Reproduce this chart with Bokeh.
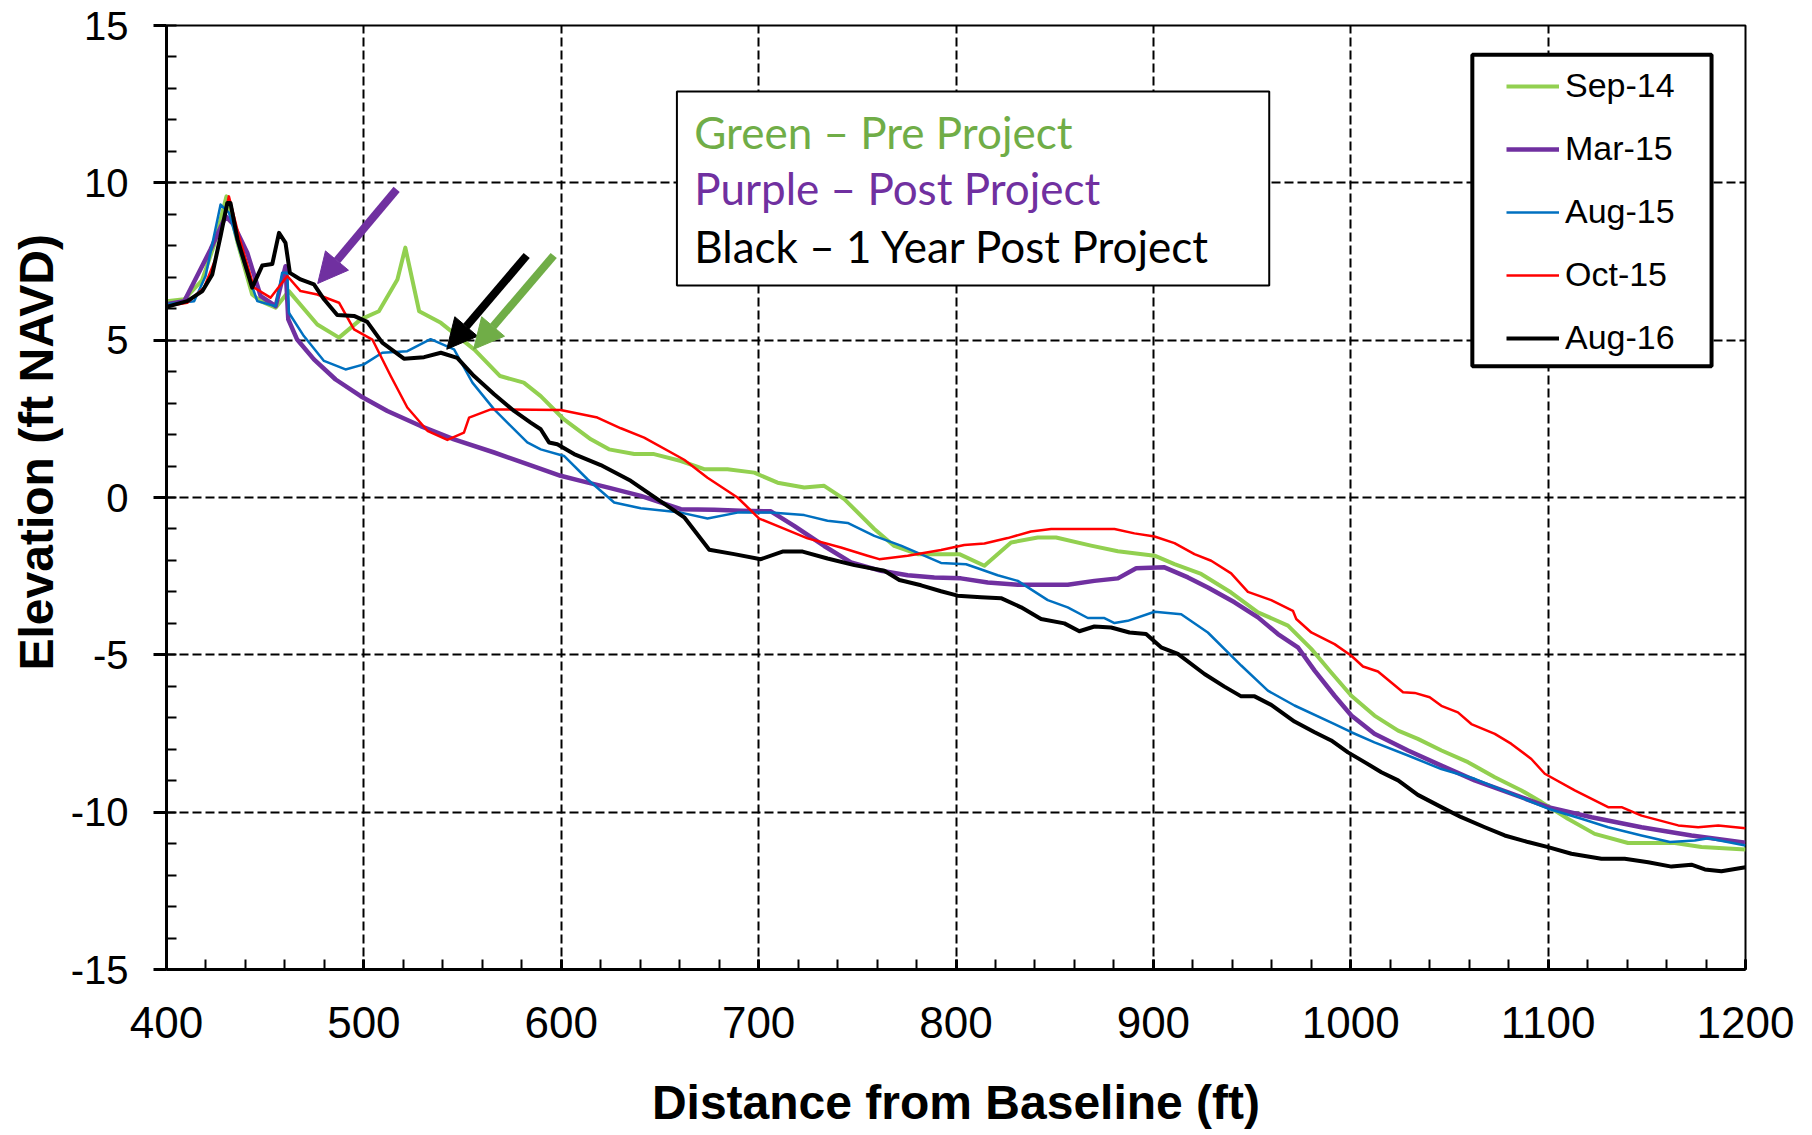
import math
from bokeh.plotting import figure
from bokeh.models import (Range1d, FixedTicker, Legend, LegendItem, BoxAnnotation,
                          Label, Arrow, NormalHead, Title, PrintfTickFormatter)
from bokeh.embed import file_html
from bokeh.resources import INLINE

# ---------------- data ----------------
x_sep14 = [400, 409, 418, 424, 430.4, 436, 443.4, 447.7, 455.3, 462, 476.4, 487.4, 498.4, 507.6, 517, 521, 528, 539, 556, 569,
           581, 589.6, 601.4, 615, 624.2, 637, 647, 660.6, 672.4, 684.2, 697.8, 709.6, 723.1, 733.2, 743.4, 758.6, 768.7, 780.6, 801.7, 814.4,
           827.9, 841.4, 850.7, 868.4, 882, 900.6, 910.7, 924.2, 939.4, 953, 968.2, 980, 990.1, 1000.3, 1012, 1024, 1034, 1046, 1059.4, 1073,
           1086.5, 1096.6, 1110, 1123.6, 1140.5, 1164.2, 1177.7, 1200]
y_sep14 = [6.24, 6.3, 6.9, 8.0, 9.57, 8.1, 6.45, 6.24, 6.03, 6.56, 5.5, 5.08, 5.66, 5.92, 6.93, 7.94, 5.92, 5.55, 4.7, 3.86,
           3.65, 3.22, 2.48, 1.85, 1.53, 1.38, 1.38, 1.16, 0.9, 0.9, 0.79, 0.47, 0.32, 0.37, -0.05, -1.0, -1.54, -1.8, -1.8, -2.17,
           -1.43, -1.27, -1.27, -1.53, -1.71, -1.85, -2.12, -2.43, -3.02, -3.65, -4.07, -4.81, -5.56, -6.3, -6.93, -7.41, -7.67, -8.04, -8.41, -8.89,
           -9.31, -9.68, -10.21, -10.69, -10.98, -10.98, -11.11, -11.19]

x_mar15 = [400, 409, 415.5, 422.3, 430, 434, 440.9, 447.7, 455.3, 460.3, 461.7, 466.2, 474.7, 485.7, 498.4, 511.9, 528.8, 545.7, 566, 582.8,
           599.7, 609.9, 623.4, 640.3, 660.6, 677.5, 691, 706.2, 718, 733.2, 746.8, 762, 775.5, 789, 802.5, 816.1, 831.3, 856.6, 870.1, 882,
           891.3, 905.6, 917.5, 927.6, 941.1, 953, 963.1, 973.2, 981.7, 991.8, 1000.3, 1012, 1029, 1045.9, 1062.8, 1079.7, 1100, 1122, 1147.3, 1172.6,
           1200]
y_mar15 = [6.14, 6.24, 7.04, 7.88, 8.94, 8.68, 7.78, 6.4, 6.08, 7.35, 5.66, 5.02, 4.39, 3.75, 3.22, 2.75, 2.27, 1.85, 1.43, 1.06,
           0.69, 0.53, 0.32, 0.05, -0.37, -0.39, -0.42, -0.44, -0.9, -1.54, -2.06, -2.33, -2.47, -2.54, -2.57, -2.7, -2.77, -2.77, -2.65, -2.57,
           -2.25, -2.22, -2.54, -2.86, -3.33, -3.81, -4.34, -4.76, -5.5, -6.3, -6.93, -7.51, -8.04, -8.52, -8.99, -9.37, -9.84, -10.16, -10.48, -10.74,
           -10.97]

x_aug15 = [400, 414, 419.8, 427.4, 431.6, 437.5, 446, 455.3, 458.6, 461.2, 462, 469.6, 479.8, 490.7, 500, 509.3, 522, 533.8, 545.7, 555,
           566, 582.8, 589.6, 601.4, 613.3, 626.8, 640.3, 660.6, 674.1, 689.3, 706.2, 723.1, 734.9, 745.1, 758.6, 772.1, 792.4, 805.1, 811, 821.1,
           831.3, 846.5, 856.6, 866.8, 875.2, 880.3, 887, 900.6, 914.1, 927.6, 944.5, 958, 971.5, 991.8, 1000.3, 1012, 1029, 1045.9, 1062.8, 1079.7,
           1100, 1116.9, 1130.4, 1147.3, 1161.7, 1174.3, 1181.1, 1200]
y_aug15 = [6.14, 6.24, 7.04, 9.31, 9.05, 7.78, 6.24, 6.08, 7.14, 7.14, 5.87, 5.13, 4.34, 4.07, 4.23, 4.6, 4.65, 5.03, 4.71, 3.65,
           2.8, 1.75, 1.53, 1.32, 0.58, -0.16, -0.34, -0.48, -0.67, -0.48, -0.48, -0.56, -0.74, -0.81, -1.22, -1.53, -2.08, -2.12, -2.25, -2.47,
           -2.65, -3.26, -3.49, -3.83, -3.83, -3.99, -3.92, -3.63, -3.71, -4.29, -5.34, -6.14, -6.61, -7.2, -7.46, -7.78, -8.2, -8.63, -8.94, -9.37,
           -9.89, -10.21, -10.48, -10.74, -10.95, -10.9, -10.83, -11.06]

x_oct15 = [400, 410.5, 419, 424.8, 431.6, 436.7, 444.3, 452.7, 461.2, 467.9, 476.4, 487.4, 495, 504.3, 513.6, 522, 532.2, 542.3, 550.7, 553.3,
           564.3, 599.7, 618.3, 630.2, 642, 662.3, 674.1, 689.3, 700.3, 711.3, 724.8, 741.7, 755.2, 761.1, 775.5, 792.4, 804.2, 814.4, 826.2, 838,
           848.2, 880.3, 890.4, 900.6, 910.7, 920.8, 929.3, 939.4, 947.9, 959.7, 970.7, 972.4, 980, 991.8, 1000.3, 1006.2, 1013.8, 1026.5, 1032.4, 1040,
           1045.9, 1054.3, 1061.1, 1073, 1081.4, 1091.5, 1098.3, 1113.5, 1130.4, 1137.2, 1147.3, 1165.9, 1176, 1186.2, 1200]
y_oct15 = [6.08, 6.19, 6.67, 7.57, 9.57, 8.31, 6.67, 6.35, 7.04, 6.56, 6.45, 6.19, 5.34, 5.02, 3.86, 2.86, 2.12, 1.83, 2.06, 2.54,
           2.8, 2.78, 2.54, 2.2, 1.9, 1.2, 0.63, 0.0, -0.67, -0.95, -1.3, -1.59, -1.85, -1.96, -1.85, -1.67, -1.51, -1.46, -1.29, -1.08,
           -1.0, -1.0, -1.14, -1.24, -1.45, -1.8, -2.01, -2.41, -3.0, -3.26, -3.6, -3.86, -4.29, -4.66, -5.03, -5.37, -5.53, -6.19, -6.21, -6.35,
           -6.62, -6.83, -7.2, -7.51, -7.83, -8.31, -8.78, -9.31, -9.84, -9.84, -10.11, -10.42, -10.48, -10.42, -10.51]

x_aug16 = [400, 410.5, 418.2, 423.2, 427.4, 430.8, 432.4, 436, 443.4, 448.5, 453.6, 457, 460.3, 462.5, 467.9, 474.7, 479.8, 486.5, 495, 501.7,
           509.3, 520.3, 530.5, 539, 547.3, 555.8, 566, 576.1, 584.5, 589.6, 593.8, 598, 606.5, 620, 635.2, 648.7, 662.3, 675, 687.6, 701.1,
           712.1, 722.3, 734.9, 748.5, 763.7, 771.3, 782.3, 792.4, 800.8, 812.7, 822.8, 833, 843.1, 854.9, 862.5, 870.1, 878.6, 887.9, 896.3, 903.9,
           912.4, 925.9, 936, 944.5, 951.3, 959.7, 971.5, 981.7, 990.1, 998.6, 1007, 1015.5, 1024, 1034, 1045.9, 1056, 1067.9, 1078, 1089.8, 1100,
           1111.8, 1127, 1138.8, 1150.7, 1162.5, 1172.6, 1179.4, 1187.8, 1200]
y_aug16 = [6.06, 6.24, 6.56, 7.09, 8.31, 9.36, 9.36, 8.2, 6.67, 7.37, 7.42, 8.41, 8.09, 7.14, 6.93, 6.77, 6.3, 5.8, 5.77, 5.58,
           4.92, 4.41, 4.46, 4.6, 4.44, 3.86, 3.28, 2.75, 2.38, 2.17, 1.75, 1.69, 1.38, 1.03, 0.53, -0.05, -0.63, -1.66, -1.8, -1.96,
           -1.72, -1.72, -1.94, -2.15, -2.33, -2.62, -2.79, -2.98, -3.12, -3.17, -3.2, -3.49, -3.86, -4.0, -4.25, -4.1, -4.13, -4.29, -4.34, -4.76,
           -4.97, -5.61, -6.01, -6.32, -6.32, -6.59, -7.12, -7.46, -7.72, -8.1, -8.41, -8.73, -8.99, -9.45, -9.84, -10.16, -10.48, -10.74, -10.95, -11.11,
           -11.32, -11.48, -11.48, -11.59, -11.73, -11.67, -11.82, -11.88, -11.75]

series_names = ["Sep-14", "Mar-15", "Aug-15", "Oct-15", "Aug-16"]
series_colors = ["#92D050", "#7030A0", "#0070C0", "#FF0000", "#000000"]
series_widths = [4, 4.5, 2.5, 2.5, 4]

x_ticks = [400, 500, 600, 700, 800, 900, 1000, 1100, 1200]
y_ticks = [-15, -10, -5, 0, 5, 10, 15]

# annotation text box (data units)
note_lines = ["Green \u2013 Pre Project", "Purple \u2013 Post Project", "Black \u2013 1 Year Post Project"]
note_colors = ["#70AD47", "#7030A0", "#000000"]
note_x = 667.4
note_y = [11.63, 9.85, 7.98]
note_box = dict(left=658.6, right=958.7, top=12.9, bottom=6.74)

# legend frame (data units)
legend_box = dict(left=1061.6, right=1182.8, top=14.07, bottom=4.17)

# arrows (tail -> tip, data units)
arrow_colors = ["#7030A0", "#000000", "#70AD47"]
arrow_x0 = [516.6, 582.5, 596.2]
arrow_y0 = [9.79, 7.69, 7.69]
arrow_x1 = [476.6, 542.0, 555.6]
arrow_y1 = [6.80, 4.71, 4.71]

# ---------------- figure ----------------
p = figure(frame_width=1579, frame_height=944,
           min_border_left=166, min_border_right=62, min_border_top=25, min_border_bottom=160,
           x_range=Range1d(400, 1200), y_range=Range1d(-15, 15),
           output_backend="svg", toolbar_location=None,
           background_fill_color="white", border_fill_color="white")
p.outline_line_color = "black"
p.outline_line_width = 2

FONT = "Liberation Sans"

# axes
p.xaxis.ticker = FixedTicker(ticks=x_ticks, minor_ticks=list(range(400, 1201, 20)))
p.yaxis.ticker = FixedTicker(ticks=y_ticks, minor_ticks=list(range(-15, 16, 1)))
p.xaxis.formatter = PrintfTickFormatter(format="%d")
p.yaxis.formatter = PrintfTickFormatter(format="%d")
for ax in (p.xaxis[0], p.yaxis[0]):
    ax.axis_line_color = "black"
    ax.axis_line_width = 3
    ax.major_tick_line_color = "black"
    ax.major_tick_line_width = 3
    ax.minor_tick_line_color = "black"
    ax.minor_tick_line_width = 2
    ax.major_label_text_font = FONT
    ax.major_label_text_color = "black"
    ax.minor_tick_in = 10
    ax.minor_tick_out = 0

p.xaxis.major_label_text_font_size = "44px"
p.yaxis.major_label_text_font_size = "40px"
p.xaxis.major_tick_in = 10
p.xaxis.major_tick_out = 0
p.xaxis.major_label_standoff = 37
p.yaxis.major_tick_in = 0
p.yaxis.major_tick_out = 13
p.yaxis.major_label_standoff = 25

p.xaxis.axis_label = "Distance from Baseline (ft)"
p.xaxis.axis_label_text_font = FONT
p.xaxis.axis_label_text_font_style = "bold"
p.xaxis.axis_label_text_font_size = "48px"
p.xaxis.axis_label_text_color = "black"
p.xaxis.axis_label_standoff = 35

# y axis title (sits above the frame centre in the reference)
ytitle = Title(text="Elevation (ft NAVD)", align="left", offset=299, standoff=10,
               text_font=FONT, text_font_style="bold", text_font_size="48px",
               text_color="black")
p.add_layout(ytitle, "left")

# grid
p.xgrid.ticker = FixedTicker(ticks=x_ticks[1:-1])
p.ygrid.ticker = FixedTicker(ticks=y_ticks[1:-1])
for g in (p.xgrid[0], p.ygrid[0]):
    g.grid_line_color = "black"
    g.grid_line_width = 2
    g.grid_line_dash = "9 4"

# series
xs = [x_sep14, x_mar15, x_aug15, x_oct15, x_aug16]
ys = [y_sep14, y_mar15, y_aug15, y_oct15, y_aug16]
items = []
for name, xv, yv, c, w in zip(series_names, xs, ys, series_colors, series_widths):
    r = p.line(xv, yv, line_color=c, line_width=w, line_join="round")
    items.append(LegendItem(label=name, renderers=[r]))

# legend frame drawn as a box, legend itself transparent on top
p.add_layout(BoxAnnotation(fill_color="white", fill_alpha=1, line_color="black",
                           line_width=4, line_alpha=1, **legend_box))
legend = Legend(items=items, location=(1340, 612))
legend.border_line_color = None
legend.background_fill_alpha = 0
legend.label_text_font = FONT
legend.label_text_font_size = "34px"
legend.label_text_color = "black"
legend.glyph_width = 53
legend.glyph_height = 38
legend.label_height = 38
legend.label_standoff = 6
legend.spacing = 24
legend.padding = 0
legend.margin = 0
p.add_layout(legend)

# note box
p.add_layout(BoxAnnotation(fill_color="white", fill_alpha=1, line_color="black",
                           line_width=2, line_alpha=1, **note_box))
for t, c, yy in zip(note_lines, note_colors, note_y):
    p.add_layout(Label(x=note_x, y=yy, text=t, text_color=c, text_font="Lato",
                       text_font_size="44px", text_align="left", text_baseline="alphabetic"))

# arrows
for c, xa, ya, xb, yb in zip(arrow_colors, arrow_x0, arrow_y0, arrow_x1, arrow_y1):
    p.add_layout(Arrow(end=NormalHead(size=30, fill_color=c, line_color=c, line_width=1),
                       x_start=xa, y_start=ya, x_end=xb, y_end=yb,
                       line_color=c, line_width=8))

open("out.html", "w").write(file_html(p, INLINE))
